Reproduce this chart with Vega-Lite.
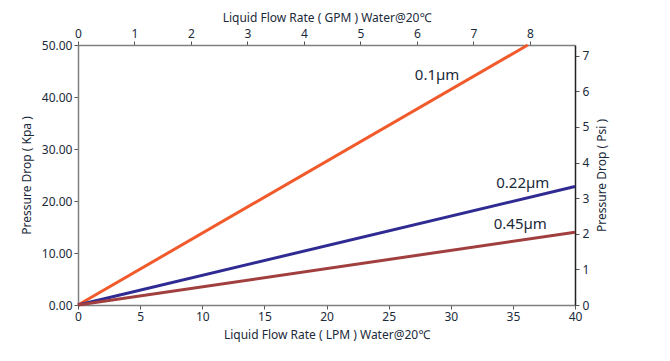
{
  "$schema": "https://vega.github.io/schema/vega-lite/v6.json",
  "width": 497,
  "height": 260,
  "autosize": "none",
  "padding": {"left": 78, "top": 45, "right": 95, "bottom": 56},
  "background": "white",
  "config": {
    "view": {"stroke": null},
    "font": "Noto Sans",
    "axis": {
      "grid": false,
      "labelFont": "Noto Sans",
      "titleFont": "Noto Sans",
      "labelFontSize": 12,
      "titleFontSize": 12,
      "titleFontWeight": "normal",
      "labelColor": "#1b2a3a",
      "titleColor": "#1b2a3a",
      "tickColor": "#555555",
      "domainColor": "#7f7f7f",
      "domainWidth": 1.5,
      "tickSize": 4
    }
  },
  "datasets": {
    "lines": [
      {"filter": "0.1µm", "lpm": 0, "kpa": 0},
      {"filter": "0.1µm", "lpm": 36.2, "kpa": 50},
      {"filter": "0.22µm", "lpm": 0, "kpa": 0},
      {"filter": "0.22µm", "lpm": 40, "kpa": 22.8},
      {"filter": "0.45µm", "lpm": 0, "kpa": 0},
      {"filter": "0.45µm", "lpm": 40, "kpa": 14}
    ],
    "labels": [
      {"text": "0.1µm", "lpm": 28.9, "kpa": 44.3},
      {"text": "0.22µm", "lpm": 35.8, "kpa": 23.5},
      {"text": "0.45µm", "lpm": 35.6, "kpa": 15.6}
    ],
    "secondary": [
      {"gpm": 0, "psi": 0},
      {"gpm": 8.8, "psi": 7.3}
    ]
  },
  "layer": [
    {
      "layer": [
        {
          "data": {"name": "lines"},
          "mark": {"type": "line", "strokeWidth": 3},
          "encoding": {
            "x": {
              "field": "lpm", "type": "quantitative",
              "scale": {"domain": [0, 40], "nice": false, "zero": false},
              "axis": {"orient": "bottom", "values": [0, 5, 10, 15, 20, 25, 30, 35, 40], "title": "Liquid Flow Rate ( LPM ) Water@20℃", "titlePadding": 7, "labelPadding": 2, "labelFlush": false}
            },
            "y": {
              "field": "kpa", "type": "quantitative",
              "scale": {"domain": [0, 50], "nice": false},
              "axis": {"orient": "left", "values": [0, 10, 20, 30, 40, 50], "format": ".2f", "title": "Pressure Drop ( Kpa )", "titlePadding": 8, "labelPadding": 2}
            },
            "color": {
              "field": "filter", "type": "nominal",
              "scale": {"domain": ["0.1µm", "0.22µm", "0.45µm"], "range": ["#f15a2b", "#2f2b93", "#a13f3f"]},
              "legend": null
            }
          }
        },
        {
          "data": {"name": "labels"},
          "mark": {"type": "text", "fontSize": 15, "color": "#1b2a3a", "font": "Noto Sans", "align": "center", "baseline": "middle"},
          "encoding": {
            "x": {"field": "lpm", "type": "quantitative"},
            "y": {"field": "kpa", "type": "quantitative"},
            "text": {"field": "text"}
          }
        }
      ]
    },
    {
      "data": {"name": "secondary"},
      "mark": {"type": "point", "opacity": 0},
      "encoding": {
        "x": {
          "field": "gpm", "type": "quantitative",
          "scale": {"domain": [0, 8.8], "nice": false, "zero": false},
          "axis": {"orient": "top", "values": [0, 1, 2, 3, 4, 5, 6, 7, 8], "title": "Liquid Flow Rate ( GPM ) Water@20℃", "titlePadding": 3, "labelPadding": 1, "labelFlush": false}
        },
        "y": {
          "field": "psi", "type": "quantitative",
          "scale": {"domain": [0, 7.3], "nice": false},
          "axis": {"orient": "right", "values": [0, 1, 2, 3, 4, 5, 6, 7], "title": "Pressure Drop ( Psi )", "titleAngle": 270, "titleBaseline": "top", "titlePadding": 8, "labelPadding": 3, "domainColor": "#222222", "labelFlush": false}
        }
      }
    }
  ],
  "resolve": {"scale": {"x": "independent", "y": "independent"}}
}
